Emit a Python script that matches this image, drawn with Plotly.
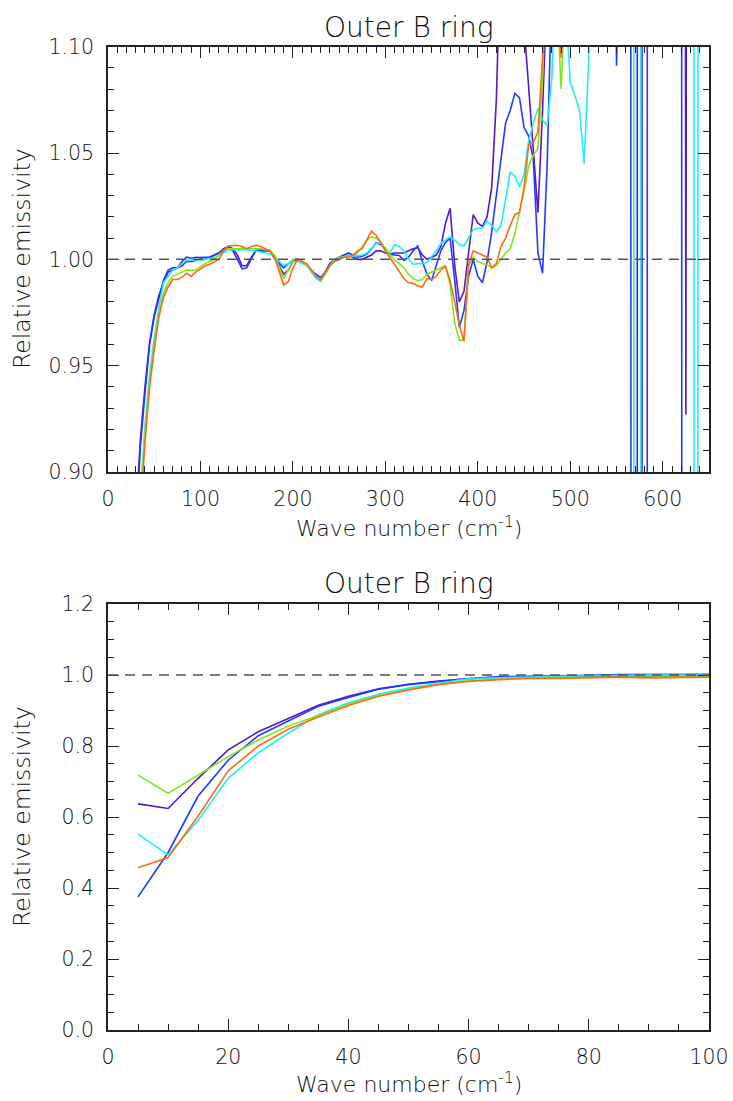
import plotly.graph_objects as go

# ---------------- data ----------------
wavenumber = list(range(5, 655, 5))  # cm^-1 grid, 5 ... 650

purple_vals = [
    0.637, 0.624, 0.709, 0.789, 0.840, 0.878, 0.915, 0.940, 0.961, 0.974,
    0.983, 0.989, 0.994, 0.995, 0.996, 0.997, 0.999, 0.999, 0.9995, 1.000,
    1.000, 1.001, 1.002, 1.003, 1.005, 1.006, 1.005, 1.002, 0.997, 0.997,
    1.001, 1.004, 1.004, 1.004, 1.004, 1.001, 0.997, 0.993, 0.995, 0.999,
    1.000, 0.999, 0.997, 0.995, 0.992, 0.9905, 0.994, 0.998, 0.999, 1.000,
    1.001, 1.002, 1.001, 1.000, 1.000, 1.001, 1.002, 1.004, 1.004, 1.003,
    1.0025, 1.003, 1.003, 1.003, 1.004, 1.005, 1.0055, 1.002, 1.000, 1.001,
    1.002, 1.006, 1.017, 1.024, 0.997, 0.980, 0.985, 1.003, 1.021, 1.017,
    1.0155, 1.020, 1.034, 1.075, 1.16, 1.30, 1.30, 1.30, 1.30, 1.11,
    1.08, 1.05, 1.022, 1.07, 1.13, 1.30, 1.30, 1.30, 1.30, 1.30,
    1.30, 1.30, 1.30, 1.30, 1.30, 1.30, 1.30, 1.30, 1.30, 1.30,
    1.30, 1.30, 1.30, 40.0, -40.0, 40.0, 1.30, 1.30, 1.30, 1.30,
    1.30, 1.30, 1.30, 3.00, 0.927, 3.00, 1.30, 1.30, 1.30, 1.30,
]

blue_vals = [
    0.375, 0.500, 0.659, 0.760, 0.829, 0.871, 0.912, 0.937, 0.960, 0.973,
    0.982, 0.990, 0.995, 0.996, 0.996, 0.999, 1.001, 1.0005, 1.001, 1.0008,
    1.001, 1.001, 1.002, 1.003, 1.004, 1.0055, 1.004, 1.000, 0.9955, 0.996,
    1.000, 1.0044, 1.0044, 1.0044, 1.0042, 1.0005, 0.998, 0.996, 0.998, 0.9995,
    1.000, 0.999, 0.997, 0.995, 0.993, 0.9915, 0.994, 0.998, 1.000, 1.001,
    1.002, 1.003, 1.002, 1.001, 1.0015, 1.0025, 1.005, 1.0078, 1.007, 1.005,
    1.0023, 1.002, 1.0018, 0.9995, 1.001, 1.004, 1.0063, 0.999, 0.993, 0.990,
    0.997, 1.004, 1.008, 1.010, 0.990, 0.968, 0.976, 0.992, 1.000, 0.992,
    0.989, 0.999, 1.013, 1.030, 1.045, 1.064, 1.070, 1.078, 1.076, 1.062,
    1.058, 1.047, 1.003, 0.9935, 1.045, 1.20, 1.30, 1.30, 1.30, 1.30,
    1.30, 1.30, 1.30, 1.30, 1.30, 1.30, 1.30, 1.30, 1.30, 1.091,
    1.30, 1.30, 2.00, -8.0, -8.0, -8.0, 6.00, 1.30, 1.30, 1.30,
    1.30, 1.30, 1.30, 2.00, -8.0, -8.0, -8.0, -8.0, -8.0, -8.0,
]

cyan_vals = [
    0.552, 0.493, 0.591, 0.709, 0.781, 0.836, 0.888, 0.922, 0.946, 0.963,
    0.977, 0.989, 0.992, 0.995, 0.996, 0.998, 0.9995, 0.9997, 0.9997, 0.9997,
    1.000, 1.0003, 1.0008, 1.002, 1.003, 1.0044, 1.0046, 1.0047, 1.0047, 1.0045,
    1.0044, 1.004, 1.0035, 1.003, 1.0025, 1.0015, 0.999, 0.997, 0.998, 0.999,
    0.999, 0.998, 0.997, 0.994, 0.991, 0.9895, 0.993, 0.997, 0.999, 1.0005,
    1.001, 1.002, 1.0015, 1.0018, 1.002, 1.003, 1.0055, 1.0075, 1.0078, 1.004,
    1.003, 1.007, 1.006, 1.004, 1.000, 0.9977, 0.998, 0.998, 0.9985, 1.001,
    1.004, 1.0075, 1.009, 1.0106, 1.009, 1.007, 1.0063, 1.010, 1.014, 1.0145,
    1.0147, 1.018, 1.016, 1.013, 1.016, 1.028, 1.041, 1.039, 1.034, 1.040,
    1.056, 1.064, 1.071, 1.0655, 1.063, 1.085, 1.13, 1.20, 1.12, 1.083,
    1.077, 1.070, 1.045, 1.095, 1.20, 1.30, 1.30, 1.30, 1.30, 1.30,
    1.30, 1.30, 20.0, -5.0, -5.0, 20.0, 1.30, 1.30, 1.30, 1.30,
    1.30, 1.30, 1.30, 1.30, 1.30, 20.0, -5.0, 5.0, 1.30, 1.30,
]

green_vals = [
    0.718, 0.667, 0.718, 0.770, 0.817, 0.856, 0.886, 0.918, 0.942, 0.958,
    0.974, 0.984, 0.989, 0.992, 0.993, 0.994, 0.995, 0.9948, 0.995, 0.9965,
    0.998, 0.999, 1.000, 1.002, 1.004, 1.005, 1.005, 1.005, 1.005, 1.005,
    1.0052, 1.0053, 1.005, 1.0045, 1.0044, 1.002, 0.996, 0.991, 0.995, 1.000,
    1.000, 0.999, 0.997, 0.995, 0.992, 0.9906, 0.993, 0.997, 1.000, 1.001,
    1.001, 1.001, 1.002, 1.003, 1.006, 1.009, 1.0106, 1.010, 1.008, 1.005,
    1.002, 0.9995, 0.998, 0.996, 0.993, 0.991, 0.990, 0.9905, 0.993, 0.994,
    0.995, 0.996, 0.997, 0.988, 0.970, 0.962, 0.962, 0.997, 1.001, 0.999,
    0.998, 0.9975, 0.996, 0.997, 1.000, 1.003, 1.005, 1.012, 1.022, 1.032,
    1.044, 1.049, 1.052, 1.085, 1.15, 1.30, 1.13, 1.08, 1.13, 1.30,
    1.30, 1.30, 1.30, 1.30, 1.30, 1.30, 1.30, 1.30, 1.30, 1.30,
    1.30, 1.30, 1.30, 1.30, 1.30, 1.30, 1.30, 1.30, 1.30, 1.30,
    1.30, 1.30, 1.30, 1.30, 1.30, 1.30, 1.30, 1.30, 1.30, 1.30,
]

orange_vals = [
    0.457, 0.486, 0.603, 0.730, 0.800, 0.847, 0.882, 0.914, 0.940, 0.958,
    0.973, 0.982, 0.987, 0.9905, 0.9905, 0.9915, 0.9935, 0.992, 0.994, 0.9956,
    0.997, 0.9977, 0.999, 1.000, 1.004, 1.0063, 1.0065, 1.0066, 1.006, 1.005,
    1.006, 1.0066, 1.006, 1.005, 1.004, 1.001, 0.995, 0.988, 0.9895, 0.996,
    1.000, 0.999, 0.998, 0.995, 0.992, 0.9905, 0.994, 0.997, 0.999, 1.0008,
    1.001, 1.001, 1.002, 1.004, 1.005, 1.009, 1.0133, 1.0113, 1.008, 1.004,
    1.0008, 0.997, 0.994, 0.991, 0.989, 0.9887, 0.9875, 0.987, 0.991, 0.9905,
    0.992, 0.995, 0.9966, 0.990, 0.980, 0.969, 0.9615, 0.997, 1.004, 1.003,
    1.002, 1.001, 0.996, 0.998, 1.006, 1.010, 1.016, 1.021, 1.022, 1.034,
    1.054, 1.055, 1.060, 1.095, 1.15, 1.30, 1.13, 1.095, 1.13, 1.30,
    1.30, 1.30, 1.30, 1.30, 1.30, 1.30, 1.30, 1.30, 1.30, 1.30,
    1.30, 1.30, 1.30, 1.30, 1.30, 1.30, 1.30, 1.30, 1.30, 1.30,
    1.30, 1.30, 1.30, 1.30, 1.30, 1.30, 1.30, 1.30, 1.30, 1.30,
]

series_names = ["purple", "blue", "cyan", "green", "orange"]
series_values = [purple_vals, blue_vals, cyan_vals, green_vals, orange_vals]
series_colors = ["#5a16c8", "#1e3cff", "#1ef0f8", "#7de81c", "#ff6b12"]

unity_level = 1.0
title_text = "Outer B ring"
xtitle_text = "Wave number (cm<sup>-1</sup>)"
ytitle_text = "Relative emissivity"

# ---------------- figure ----------------
W, H = 733, 1101
FONT = "DejaVu Sans"
AX = "#222222"
TXT = "#111111"

fig = go.Figure()
for axes in (("x", "y"), ("x2", "y2")):
    for name, vals, col in zip(series_names, series_values, series_colors):
        fig.add_trace(go.Scatter(
            x=wavenumber, y=vals, mode="lines", name=name,
            line=dict(color=col, width=1.6),
            xaxis=axes[0], yaxis=axes[1], showlegend=False, hoverinfo="skip",
        ))

def px_x(p):
    return p / W

def px_y(p):
    return 1 - p / H

common = dict(
    ticks="inside", ticklen=11, tickwidth=1.4, tickcolor=AX,
    showline=True, linecolor=AX, linewidth=1.6, mirror="allticks",
    showgrid=False, zeroline=False, automargin=False,
    tickfont=dict(family=FONT, size=20.5, color=TXT, weight=300),
)

L, R = 108, 709
fig.update_layout(
    template="none",
    width=W, height=H,
    margin=dict(l=0, r=0, t=0, b=0, autoexpand=False),
    paper_bgcolor="white", plot_bgcolor="white",
    showlegend=False,
    xaxis=dict(domain=[px_x(L), px_x(R)], range=[0, 650], anchor="y",
               tick0=0, dtick=100, ticklabelstandoff=8,
               minor=dict(dtick=10, ticks="inside", ticklen=6, tickwidth=1.2, tickcolor=AX),
               **common),
    yaxis=dict(domain=[px_y(472), px_y(46.7)], range=[0.90, 1.10], anchor="x",
               tick0=0.9, dtick=0.05, tickformat=".2f", ticklabelstandoff=8,
               minor=dict(dtick=0.01, ticks="inside", ticklen=6, tickwidth=1.2, tickcolor=AX),
               **common),
    xaxis2=dict(domain=[px_x(L), px_x(R)], range=[0, 100], anchor="y2",
                tick0=0, dtick=20, ticklabelstandoff=8,
                minor=dict(dtick=5, ticks="inside", ticklen=6, tickwidth=1.2, tickcolor=AX),
                **common),
    yaxis2=dict(domain=[px_y(1030), px_y(604)], range=[0.0, 1.2], anchor="x2",
                tick0=0, dtick=0.2, tickformat=".1f", ticklabelstandoff=8,
                minor=dict(dtick=0.05, ticks="inside", ticklen=6, tickwidth=1.2, tickcolor=AX),
                **common),
)

for xr, yr in (("x domain", "y"), ("x2 domain", "y2")):
    fig.add_shape(type="line", xref=xr, yref=yr, x0=0, x1=1, y0=unity_level, y1=unity_level,
                  line=dict(color="#555555", width=1.5, dash="10px,7px"), layer="above")

annos = []
for ty, xy, yy in ((27, 527, 259), (583, 1083, 817)):
    annos.append(dict(x=px_x(408.5), y=px_y(ty), xref="paper", yref="paper", text=title_text,
                      showarrow=False, xanchor="center", yanchor="middle",
                      font=dict(family=FONT, size=28, color=TXT, weight=300)))
    annos.append(dict(x=px_x(408.5), y=px_y(xy), xref="paper", yref="paper", text=xtitle_text,
                      showarrow=False, xanchor="center", yanchor="middle",
                      font=dict(family=FONT, size=22, color=TXT, weight=300)))
    annos.append(dict(x=px_x(22), y=px_y(yy), xref="paper", yref="paper", text=ytitle_text,
                      showarrow=False, xanchor="center", yanchor="middle", textangle=-90,
                      font=dict(family=FONT, size=23.5, color=TXT, weight=300)))
fig.update_layout(annotations=annos)

fig.write_html("out.html")
